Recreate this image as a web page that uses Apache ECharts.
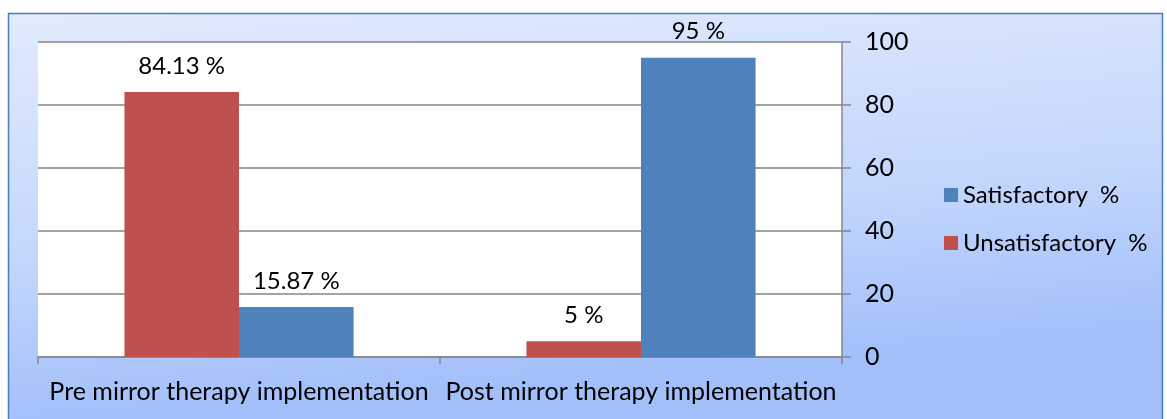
<!DOCTYPE html>
<html><head><meta charset="utf-8">
<script src="https://cdn.jsdelivr.net/npm/echarts@6/dist/echarts.min.js"></script>
<style>html,body{margin:0;padding:0;background:#fff}#c{width:1167px;height:419px}</style>
</head><body><div id="c"></div>
<script>
const categories = ['Pre mirror therapy implementation', 'Post mirror therapy implementation'];
const unsatisfactory = [84.13, 5];
const satisfactory = [15.87, 95];
const seriesNames = ['Unsatisfactory  %', 'Satisfactory  %'];
const legendOrder = ['Satisfactory  %', 'Unsatisfactory  %'];

const FONT = 'Lato';
const chart = echarts.init(document.getElementById('c'), null, {renderer: 'canvas'});
const labelCfg = {show: true, position: 'top', distance: 14, formatter: '{c} %', color: '#000', fontFamily: FONT, fontSize: 24};
chart.setOption({
  animation: false,
  textStyle: {fontFamily: FONT},
  graphic: [{
    type: 'rect', z: -10, silent: true,
    shape: {x: 8.5, y: 13.5, width: 1154, height: 412},
    style: {
      fill: {type: 'linear', x: 0, y: 0, x2: 0.03, y2: 1, colorStops: [
        {offset: 0, color: '#E1EBFC'}, {offset: 0.6, color: '#C3D6FC'}, {offset: 1, color: '#A2BFFA'}]},
      stroke: '#4A7EBB', lineWidth: 1.5
    }
  }],
  grid: {left: 38, right: 325, top: 42, bottom: 62, show: true, backgroundColor: '#fff', borderWidth: 0},
  legend: {
    data: legendOrder, orient: 'vertical', left: 939, top: 178,
    itemWidth: 14, itemHeight: 14, itemGap: 24, icon: 'rect',
    textStyle: {fontFamily: FONT, fontSize: 24, color: '#000'}
  },
  xAxis: {
    type: 'category', data: categories,
    axisLine: {lineStyle: {color: '#868686', width: 1.5}},
    axisTick: {show: true, length: 7, lineStyle: {color: '#868686', width: 1.5}},
    axisLabel: {color: '#000', fontFamily: FONT, fontSize: 25, margin: 22, interval: 0}
  },
  yAxis: {
    type: 'value', position: 'right', min: 0, max: 100, interval: 20,
    axisLine: {show: true, lineStyle: {color: '#868686', width: 1.5}},
    axisTick: {show: true, length: 9, lineStyle: {color: '#868686', width: 1.5}},
    splitLine: {lineStyle: {color: '#868686', width: 1.5}},
    axisLabel: {color: '#000', fontFamily: FONT, fontSize: 25, margin: 23}
  },
  series: [
    {name: seriesNames[0], type: 'bar', data: unsatisfactory, barGap: '0%', barCategoryGap: '43%',
     itemStyle: {color: '#C0504D'}, label: labelCfg},
    {name: seriesNames[1], type: 'bar', data: satisfactory, barGap: '0%', barCategoryGap: '43%',
     itemStyle: {color: '#4F81BD'}, label: labelCfg}
  ]
});
</script></body></html>
